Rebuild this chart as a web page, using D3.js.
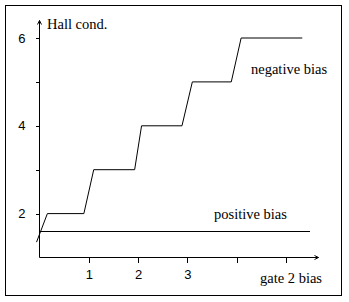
<!DOCTYPE html>
<html>
<head>
<meta charset="utf-8">
<script src="https://cdn.jsdelivr.net/npm/d3@7"></script>
<style>
  body { margin: 0; background: #fff; }
  svg { display: block; }
  text { fill: #000; }
  .tick text { font-family: "Liberation Sans", Arial, sans-serif; font-size: 13px; }
</style>
</head>
<body>
<script>
// values (x in gate units, y in Hall conductance units)
const negativeBias = [
  [-0.06, 1.35], [0.16, 2], [0.9, 2], [1.1, 3], [1.93, 3], [2.07, 4],
  [2.89, 4], [3.1, 5], [3.89, 5], [4.09, 6], [5.33, 6]
];
const positiveBias = [[0, 1.6], [5.48, 1.6]];
const xTicks = [1, 2, 3, 4, 5];
const xTickLabels = [1, 2, 3];
const yTicks = [2, 3, 4, 5, 6];
const yTickLabels = [2, 4, 6];

const width = 349, height = 302;

const svg = d3.select("body").append("svg")
  .attr("width", width)
  .attr("height", height);

// outer frame
svg.append("rect")
  .attr("x", 5.5).attr("y", 5.5)
  .attr("width", 336).attr("height", 289.5)
  .attr("fill", "none").attr("stroke", "#000")
  .attr("shape-rendering", "crispEdges");

const x = d3.scaleLinear().domain([0, 5]).range([39.5, 286]);
const y = d3.scaleLinear().domain([1, 6]).range([257.5, 38]);

// axes
const xAxis = svg.append("g")
  .attr("transform", `translate(0,${y(1)})`)
  .call(d3.axisBottom(x)
    .tickValues(xTicks)
    .tickSize(5)
    .tickPadding(7)
    .tickFormat(d => xTickLabels.includes(d) ? d : ""));
xAxis.select(".domain").remove();

const yAxis = svg.append("g")
  .attr("transform", `translate(${x(0)},0)`)
  .call(d3.axisLeft(y)
    .tickValues(yTicks)
    .tickSize(4)
    .tickPadding(10)
    .tickFormat(d => yTickLabels.includes(d) ? d : ""));
yAxis.select(".domain").remove();

svg.selectAll(".tick line").attr("shape-rendering", "crispEdges");

// axis lines with open arrow heads
const ax = svg.append("g").attr("stroke", "#000").attr("fill", "none");
ax.append("path")
  .attr("d", `M${x(0)},${y(1)}H318.5M314.5,255.5L318.5,${y(1)}L314.5,259.5`);
ax.append("path")
  .attr("d", `M${x(0)},${y(1)}V20.5M37.5,24.5L${x(0)},20.5L41.5,24.5`);

const line = d3.line().x(d => x(d[0])).y(d => y(d[1]));

svg.append("path")
  .datum(negativeBias)
  .attr("d", line)
  .attr("fill", "none").attr("stroke", "#000");

svg.append("path")
  .datum(positiveBias)
  .attr("d", line)
  .attr("fill", "none").attr("stroke", "#000")
  .attr("shape-rendering", "crispEdges");

// labels
const labels = [
  ["Hall cond.", 47, 29],
  ["negative bias", 251, 74],
  ["positive bias", 214, 219],
  ["gate 2 bias", 260, 283]
];
svg.selectAll("text.lbl")
  .data(labels)
  .join("text")
  .attr("class", "lbl")
  .attr("font-family", "'Liberation Serif', 'Times New Roman', serif")
  .attr("font-size", 14.5)
  .attr("x", d => d[1])
  .attr("y", d => d[2])
  .text(d => d[0]);
</script>
</body>
</html>
